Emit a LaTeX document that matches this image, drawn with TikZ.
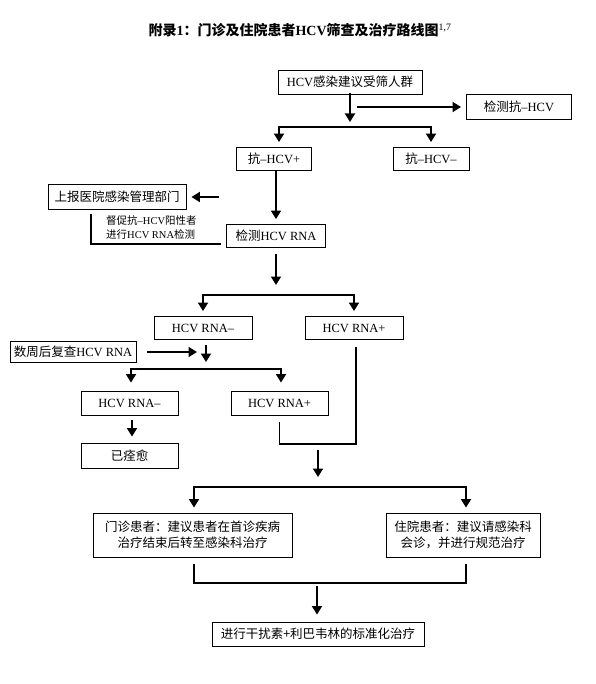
\documentclass[tikz,border=0pt]{standalone}
\usepackage{fontspec}
\setmainfont{Liberation Serif}
\newfontfamily\cjk{Noto Sans CJK SC}
\newcommand\zh[1]{{\cjk #1}}
\usetikzlibrary{arrows.meta}
\begin{document}
\begin{tikzpicture}[x=1pt,y=-1pt,
  box/.style={draw, line width=0.9pt, inner sep=0pt, minimum height=24pt,
    font=\fontsize{12.5}{16}\selectfont, align=center},
  cjkbox/.style={box, font=\fontsize{12.5}{16}\selectfont\cjk},
  ln/.style={line width=1.9pt, line cap=rect, line join=miter},
  arr/.style={ln, -{Triangle[length=8.5pt,width=10pt]}},
  arrb/.style={arr, shorten >=5pt}]
\useasboundingbox[fill=white] (0,0) rectangle (595,684);

% title
\node[font=\fontsize{14}{16}\selectfont\bfseries] (title) at (300,30)
  {\zh{附录}1\zh{：门诊及住院患者}HCV\zh{筛查及治疗路线图}\textsuperscript{\mdseries 1,7}};

% nodes
\node[box, minimum width=144pt] (n1) at (350,82) {HCV\zh{感染建议受筛人群}};
\node[box, minimum width=105pt, minimum height=25pt] (n2) at (519,107) {\zh{检测抗}–HCV};
\node[box, minimum width=75pt, minimum height=23pt] (n3) at (274,159) {\zh{抗}–HCV+};
\node[box, minimum width=76pt, minimum height=23pt] (n4) at (431,159) {\zh{抗}–HCV–};
\node[cjkbox, minimum width=138pt, minimum height=25pt] (n5) at (117,197) {上报医院感染管理部门};
\node[box, minimum width=99pt, minimum height=23pt] (n6) at (276,236) {\zh{检测}HCV RNA};
\node[anchor=west, align=left, inner sep=0pt, font=\fontsize{10.5}{14}\selectfont] (lab) at (106,227)
  {\zh{督促抗}–HCV\zh{阳性者}\\\zh{进行}HCV RNA\zh{检测}};
\node[box, minimum width=98pt, minimum height=23pt] (n7) at (203,328) {HCV RNA–};
\node[box, minimum width=98pt, minimum height=23pt] (n8) at (354,328) {HCV RNA+};
\node[box, minimum width=126pt, minimum height=21pt] (n9) at (73,352) {\zh{数周后复查}HCV RNA};
\node[box, minimum width=97pt, minimum height=24pt] (n10) at (129.5,403) {HCV RNA–};
\node[box, minimum width=97pt, minimum height=24pt] (n11) at (279.5,403) {HCV RNA+};
\node[cjkbox, minimum width=97pt, minimum height=25pt] (n12) at (129.5,455.5) {已痊愈};
\node[cjkbox, minimum width=199pt, minimum height=44pt] (n13) at (192.5,535)
  {门诊患者：建议患者在首诊疾病\\治疗结束后转至感染科治疗};
\node[cjkbox, minimum width=154pt, minimum height=44pt] (n14) at (463,535)
  {住院患者：建议请感染科\\会诊，并进行规范治疗};
\node[cjkbox, minimum width=212pt, minimum height=24pt] (n15) at (318,634)
  {进行干扰素+利巴韦林的标准化治疗};

% coordinates
\coordinate (a1) at (350,122);
\coordinate (a2) at (358,107);
\coordinate (b1L) at (279,127);
\coordinate (b1R) at (431,127);
\coordinate (a3) at (218,197);
\coordinate (L1) at (91,215);
\coordinate (L2) at (220,244);
\coordinate (a4) at (276,285);
\coordinate (b2L) at (203,295);
\coordinate (b2R) at (354,295);
\coordinate (a5) at (197,352);
\coordinate (a6) at (206,362);
\coordinate (b3L) at (131,369);
\coordinate (b3R) at (281,369);
\coordinate (u1) at (356,444);
\coordinate (a7s) at (318,451);
\coordinate (a7e) at (318,477);
\coordinate (b4L) at (194,487);
\coordinate (b4R) at (466,487);
\coordinate (u2) at (194,583);
\coordinate (u3) at (466,583);
\coordinate (a8) at (317,587);

% connectors
\draw[arr] (n1.south) -- (a1);
\draw[arrb] (a2) -- (n2.west);
\draw[ln] (b1L) -- (b1R);
\draw[arrb] (b1L) -- (b1L |- n3.north);
\draw[arrb] (b1R) -- (b1R |- n4.north);
\draw[arrb] (n6.north |- n3.south) -- (n6.north);
\draw[arrb] (a3) -- (n5.east);
\draw[ln, line width=1.6pt] (L1) |- (L2);
\draw[arr, shorten <=7pt] (n6.south) -- (a4);
\draw[ln] (b2L) -- (b2R);
\draw[arrb] (b2L) -- (b2L |- n7.north);
\draw[arrb] (b2R) -- (b2R |- n8.north);
\draw[arr, shorten <=11pt] (n9.east) -- (a5);
\draw[arr, shorten <=6pt] (n7.south -| a6) -- (a6);
\draw[ln] (b3L) -- (b3R);
\draw[arr, shorten >=8pt] (b3L) -- (b3L |- n10.north);
\draw[arr, shorten >=8pt] (b3R) -- (b3R |- n11.north);
\draw[arr, shorten <=5pt, shorten >=6pt] (n10.south -| 132,0) -- (n12.north -| 132,0);
\draw[ln, shorten <=7pt, shorten >=8pt] (n11.south) |- (u1) -- (u1 |- n8.south);
\draw[arr] (a7s) -- (a7e);
\draw[ln] (b4L) -- (b4R);
\draw[arrb] (b4L) -- (b4L |- n13.north);
\draw[arrb] (b4R) -- (b4R |- n14.north);
\draw[ln, shorten <=7pt, shorten >=7pt] (u2 |- n13.south) -- (u2) -- (u3) -- (u3 |- n14.south);
\draw[arr, shorten >=7pt] (a8) -- (a8 |- n15.north);
\end{tikzpicture}
\end{document}
